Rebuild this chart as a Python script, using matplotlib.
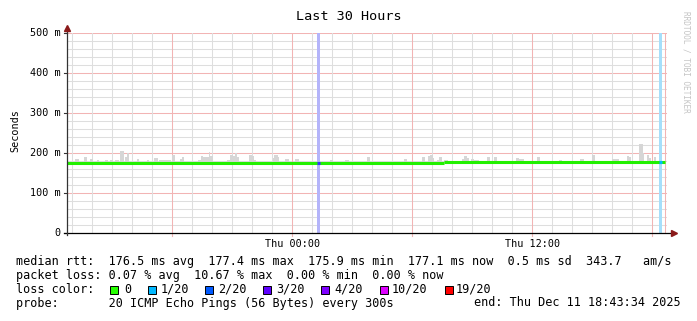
import matplotlib
matplotlib.use('Agg')
import numpy as np
import matplotlib.pyplot as plt
from matplotlib.patches import Rectangle

# window: Wed 12:43:34 -> Thu 18:43:34 (30 hours), x in hours since window start
window_hours = 30.0
first_hour_offset = 16.43 / 60.0  # Wed 13:00 relative to start

# median rtt (ms), step segments
median_t = [0.0, 18.85, 29.9]
median_ms = [176.0, 177.2]

# smoke spikes: start hour, end hour, top (ms)
smoke_start = [0.40, 0.85, 1.15, 1.50, 1.90, 2.15, 2.40, 2.65, 2.90, 3.00, 3.50, 4.00,
               4.35, 4.60, 4.95, 5.25, 5.65, 5.75, 6.55, 6.70, 6.80, 6.95, 7.10, 7.15,
               8.00, 8.15, 8.30, 8.40, 8.50, 9.10, 9.25, 9.35, 10.30, 10.35, 10.55,
               10.90, 11.40, 13.15, 13.90,
               15.00, 16.85, 17.75, 18.05, 18.15, 18.30, 18.50, 18.60, 18.85, 19.75,
               19.85, 20.00, 20.20, 20.35, 21.00, 21.35,
               22.45, 22.60, 23.50, 24.60, 25.65, 26.25, 27.25, 28.00, 28.10, 28.60,
               28.80, 29.00, 29.10, 29.35]
smoke_end = [0.60, 1.00, 1.30, 1.60, 2.05, 2.30, 2.60, 2.85, 3.00, 3.10, 3.60, 4.10,
             4.55, 4.95, 5.20, 5.40, 5.75, 5.85, 6.70, 6.80, 6.95, 7.10, 7.15, 7.30,
             8.15, 8.30, 8.40, 8.50, 8.60, 9.25, 9.35, 9.45, 10.35, 10.55, 10.60,
             11.10, 11.60, 13.30, 14.10,
             15.15, 17.00, 17.90, 18.15, 18.30, 18.35, 18.60, 18.75, 19.05, 19.85,
             20.00, 20.10, 20.35, 20.60, 21.15, 21.50,
             22.60, 22.85, 23.65, 24.75, 25.85, 26.40, 27.60, 28.10, 28.20, 28.80,
             28.85, 29.10, 29.20, 29.45]
smoke_top = [184, 189, 185, 183, 182, 183, 183, 205, 189, 200, 185, 183,
             187, 183, 183, 195, 185, 190, 183, 193, 190, 189, 202, 193,
             183, 195, 193, 200, 189, 195, 192, 183, 187, 195, 190,
             185, 184, 182, 183,
             189, 184, 190, 193, 196, 187, 183, 189, 183, 185,
             192, 187, 185, 183, 190, 190,
             187, 185, 189, 183, 185, 196, 185, 193, 189, 222,
             200, 196, 187, 189]

# packet loss events
loss_t = [12.50, 29.60]
loss_bg = ['#b4b4fa', '#a6defa']
loss_line = ['#3535ff', '#00b8ff']

# y ticks (ms) and x tick labels
ytick_ms = [0, 100, 200, 300, 400, 500]
ytick_labels = ['0', '100 m', '200 m', '300 m', '400 m', '500 m']
xtick_labels = ['Thu 00:00', 'Thu 12:00']

legend_colors = ['#26ff00', '#00b8ff', '#0059ff', '#5e00ff', '#7e00ff', '#dd00ff', '#ff0000']
legend_names = ['0', '1/20', '2/20', '3/20', '4/20', '10/20', '19/20']

W, H = 697, 321
MONO = 'DejaVu Sans Mono'
MINOR = '#dedede'
MAJOR = '#f2b4b4'


def fx(px):
    return px / W


def fy(py):
    return 1 - py / H


fig = plt.figure(figsize=(W / 100, H / 100), dpi=100)
ax = fig.add_axes([fx(67), fy(233), 600 / W, 200 / H])
ax.set_xlim(0, window_hours)
ax.set_ylim(0, 500)
for s in ax.spines.values():
    s.set_visible(False)
ax.set_xticks([])
ax.set_yticks([])

# grid
for v in np.arange(20, 501, 20):
    ax.axhline(v, color=MAJOR if v % 100 == 0 else MINOR, lw=0.75, zorder=1)
hours = np.arange(first_hour_offset, window_hours, 1.0)
for i, h in enumerate(hours):
    major = (i - 5) % 6 == 0
    ax.axvline(h, color=MAJOR if major else MINOR, lw=0.75, zorder=1 if not major else 1.5)
ax.axvline(29.9, color=MAJOR, lw=0.75, zorder=1.5)

# loss background
for t, c in zip(loss_t, loss_bg):
    ax.axvspan(t, t + 0.15, color=c, lw=0, zorder=2)

# smoke
s0 = np.array(smoke_start)
s1 = np.array(smoke_end)
ax.bar(s0, np.array(smoke_top) - 176, width=s1 - s0, bottom=176, align='edge',
       color='#d6d6d6', lw=0, zorder=3)

# median
for i in range(len(median_ms)):
    ax.hlines(median_ms[i], median_t[i], median_t[i + 1], color='#22f000', lw=2.2, zorder=4)
for t, c in zip(loss_t, loss_line):
    m = median_ms[0] if t < median_t[1] else median_ms[1]
    ax.hlines(m, t, t + 0.15, color=c, lw=2.2, zorder=5)

# axes lines with arrows
ax.plot([-0.005, 1.008], [0, 0], transform=ax.transAxes, color='#000000', lw=0.9,
        clip_on=False, zorder=6)
ax.plot([0, 0], [-0.012, 1.02], transform=ax.transAxes, color='#333333', lw=0.9,
        clip_on=False, zorder=6)
ax.plot([1.012], [0], transform=ax.transAxes, marker='>', ms=4.5, color='#8b1a1a',
        clip_on=False, zorder=7)
ax.plot([0], [1.027], transform=ax.transAxes, marker='^', ms=4.5, color='#8b1a1a',
        clip_on=False, zorder=7)

# tick marks and labels
for v, lab in zip(ytick_ms, ytick_labels):
    ax.plot([-0.005, 0], [v, v], transform=ax.get_yaxis_transform(), color='#333333',
            lw=0.8, clip_on=False)
    ax.text(-0.011, v, lab, transform=ax.get_yaxis_transform(), ha='right', va='center',
            family=MONO, fontsize=7.3)
for h in hours[5::6]:
    ax.plot([h, h], [-0.015, 0], transform=ax.get_xaxis_transform(), color='#f2b4b4',
            lw=0.8, clip_on=False)
for h, lab in zip(hours[11::12], xtick_labels):
    ax.text(h, -0.055, lab, transform=ax.get_xaxis_transform(), ha='center', va='center',
            family=MONO, fontsize=7.3)

fig.text(fx(15), fy(131), 'Seconds', rotation=90, ha='center', va='center',
         family=MONO, fontsize=7.3)
fig.text(fx(348.5), fy(16), 'Last 30 Hours', ha='center', va='center', family=MONO,
         fontsize=9.7)
fig.text(fx(686), fy(62), 'RRDTOOL / TOBI OETIKER', rotation=-90, ha='center',
         va='center', family=MONO, fontsize=5.6, color='#c4c4c4')

# legend rows
fs = 8.45
fig.text(fx(16), fy(262), 'median rtt:  176.5 ms avg  177.4 ms max  175.9 ms min  '
         '177.1 ms now  0.5 ms sd  343.7   am/s', ha='left', va='center', family=MONO, fontsize=fs)
fig.text(fx(16), fy(276), 'packet loss: 0.07 % avg  10.67 % max  0.00 % min  0.00 % now',
         ha='left', va='center', family=MONO, fontsize=fs)
fig.text(fx(16), fy(289.5), 'loss color:', ha='left', va='center', family=MONO, fontsize=fs)
box_x = [110, 147.5, 205, 263, 321, 380, 445]
text_x = [124, 160.5, 218.5, 276, 334, 392, 456]
for bx, tx, c, n in zip(box_x, text_x, legend_colors, legend_names):
    fig.add_artist(Rectangle((fx(bx), fy(293.5)), 8 / W, 8 / H, transform=fig.transFigure,
                             facecolor=c, edgecolor='#000000', lw=0.7))
    fig.text(fx(tx), fy(289.5), n, ha='left', va='center', family=MONO, fontsize=fs)
fig.text(fx(16), fy(303), 'probe:       20 ICMP Echo Pings (56 Bytes) every 300s',
         ha='left', va='center', family=MONO, fontsize=fs)
fig.text(fx(681), fy(303), 'end: Thu Dec 11 18:43:34 2025', ha='right', va='center',
         family=MONO, fontsize=fs)

fig.savefig('out.png', dpi=100)
